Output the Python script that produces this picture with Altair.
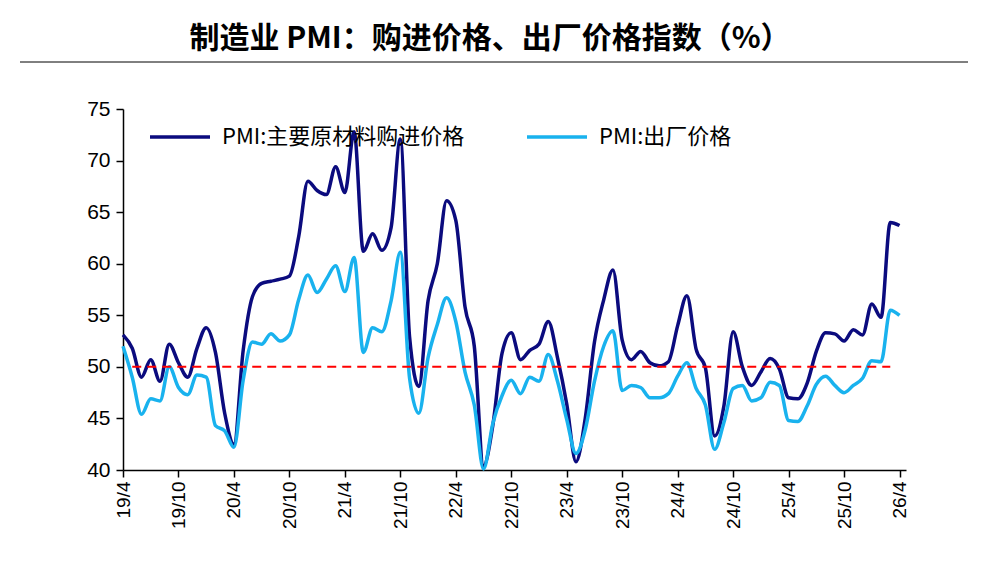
import altair as alt
import pandas as pd

# 2019/4 - 2026/4 月度数据
purchase = [53.1, 51.8, 49.0, 50.7, 48.6, 52.2, 50.4, 49.0, 51.8,
            53.8, 51.4, 45.5, 42.5, 51.6, 56.8, 58.1, 58.3, 58.5, 58.8, 62.6, 68.0,
            67.1, 66.7, 69.4, 66.9, 72.8, 61.2, 62.9, 61.3, 63.5, 72.1, 52.9, 48.1,
            56.4, 60.0, 66.1, 64.2, 55.8, 52.0, 40.4, 44.3, 51.3, 53.3, 50.7, 51.6,
            52.2, 54.4, 50.9, 46.4, 40.8, 45.0, 52.4, 56.5, 59.4, 52.6, 50.7, 51.5,
            50.4, 50.1, 50.5, 54.0, 56.9, 51.7, 49.9, 43.3, 46.2, 53.4, 50.0, 48.2,
            49.5, 50.8, 49.8, 47.0, 46.9, 48.4, 51.5, 53.3, 53.2, 52.5, 53.6, 53.1,
            56.1, 54.8, 64.0, 63.7]
output = [52.0, 49.0, 45.4, 46.9, 46.7, 50.0, 48.0, 47.3, 49.2,
          49.0, 44.3, 43.8, 42.2, 48.7, 52.4, 52.2, 53.2, 52.5, 53.1, 56.5, 58.9,
          57.2, 58.5, 59.8, 57.3, 60.6, 51.4, 53.8, 53.4, 56.4, 61.1, 48.9, 45.5,
          50.9, 54.1, 56.7, 54.4, 49.5, 46.3, 40.1, 44.5, 47.2, 48.7, 47.4, 49.0,
          48.6, 51.2, 48.6, 44.9, 41.6, 43.9, 48.6, 52.0, 53.5, 47.7, 48.2, 48.0,
          47.0, 47.0, 47.4, 49.1, 50.4, 47.9, 46.3, 42.0, 44.6, 47.9, 48.2, 46.7,
          47.0, 48.5, 48.2, 44.8, 44.7, 46.2, 48.3, 49.1, 48.2, 47.5, 48.2, 48.9,
          50.6, 50.5, 55.5, 55.0]
tick_labels = ["19/4", "19/10", "20/4", "20/10", "21/4", "21/10", "22/4", "22/10",
               "23/4", "23/10", "24/4", "24/10", "25/4", "25/10", "26/4"]
s1, s2 = "PMI:主要原材料购进价格", "PMI:出厂价格"
title_text = "制造业 PMI：购进价格、出厂价格指数（%）"

df = pd.concat([
    pd.DataFrame({"i": range(len(purchase)), "v": purchase, "s": s1}),
    pd.DataFrame({"i": range(len(output)), "v": output, "s": s2}),
])

label_expr = "[" + ",".join(f"'{t}'" for t in tick_labels) + "][datum.value / 6]"

x = alt.X("i:Q", scale=alt.Scale(domain=[0, 84.7], nice=False),
          axis=alt.Axis(values=list(range(0, 85, 6)), labelExpr=label_expr, labelAngle=270,
                        labelAlign="right", labelBaseline="middle", labelFontSize=19,
                        labelPadding=4, grid=False, tickSize=7, title=None,
                        domainColor="black", tickColor="black"))
y = alt.Y("v:Q", scale=alt.Scale(domain=[40, 75], nice=False),
          axis=alt.Axis(values=list(range(40, 80, 5)), labelFontSize=21, grid=False,
                        tickSize=7, labelPadding=6, title=None,
                        domainColor="black", tickColor="black"))

lines = alt.Chart(df).mark_line(strokeWidth=3.5, interpolate="monotone").encode(
    x=x, y=y,
    color=alt.Color("s:N", sort=[s1, s2],
                    scale=alt.Scale(domain=[s1, s2], range=["#0b0b7e", "#19b2ee"]),
                    legend=alt.Legend(orient="none", legendX=25, legendY=-4, direction="horizontal",
                                      title=None, symbolType="stroke", symbolSize=3600,
                                      symbolStrokeWidth=3.5, labelFontSize=22, columnPadding=55,
                                      labelOffset=10, labelLimit=0, labelColor="black",
                                      labelFont="Noto Sans CJK SC")),
)

ref = alt.Chart(pd.DataFrame({"a": [1], "b": [83], "y": [50]})).mark_rule(
    color="red", strokeDash=[9, 6], strokeWidth=2
).encode(x="a:Q", x2="b:Q", y="y:Q")

rule_top = alt.Chart(pd.DataFrame({"y": [0]})).mark_rule(color="black", strokeWidth=1).encode(
    x=alt.value(-103), x2=alt.value(845), y=alt.value(-47))

title = alt.Chart(pd.DataFrame({"t": [title_text]})).mark_text(
    font="Noto Sans CJK SC", fontSize=30, fontWeight="bold", color="black", baseline="middle"
).encode(text="t:N", x=alt.value(367), y=alt.value(-70))

chart = alt.layer(lines, ref, rule_top, title).properties(
    width=783, height=361,
    autosize=alt.AutoSizeParams(type="none"),
    padding={"left": 115, "top": 101, "right": 70, "bottom": 85},
).configure_view(stroke=None).configure_axis(
    labelColor="black", domainWidth=1.5, tickWidth=1.5, labelFont="Liberation Sans")

chart.save("out.html", embed_options={"renderer": "svg", "actions": False})
